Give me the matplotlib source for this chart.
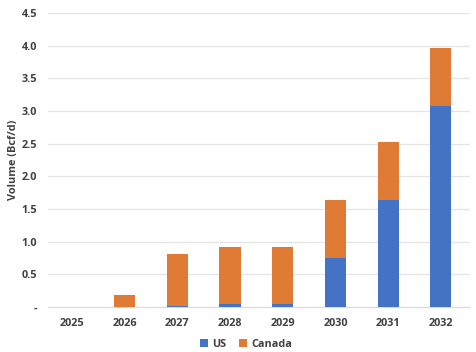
import numpy as np
import matplotlib.pyplot as plt

years = ['2025', '2026', '2027', '2028', '2029', '2030', '2031', '2032']
us = [0.0, 0.0, 0.01, 0.04, 0.04, 0.75, 1.63, 3.08]
canada = [0.0, 0.19, 0.80, 0.88, 0.88, 0.88, 0.89, 0.89]
yticks = [0, 0.5, 1.0, 1.5, 2.0, 2.5, 3.0, 3.5, 4.0, 4.5]
ylabels = ['-', '0.5', '1.0', '1.5', '2.0', '2.5', '3.0', '3.5', '4.0', '4.5']

plt.rcParams['font.family'] = ['Open Sans', 'DejaVu Sans']

fig = plt.figure(figsize=(4.77, 3.52), dpi=100)
ax = fig.add_axes([0.101, 0.128, 0.884, 0.835])

x = np.arange(len(years))
ax.bar(x, us, width=0.4, color='#4472C4', label='US', zorder=3)
ax.bar(x, canada, width=0.4, bottom=us, color='#E07B35', label='Canada', zorder=3)

ax.set_xlim(-0.45, 7.55)
ax.set_ylim(0, 4.5)
ax.set_yticks(yticks)
ax.set_yticklabels(ylabels, fontsize=7.8, fontweight='bold', color='#404040')
ax.set_xticks(x)
ax.set_xticklabels(years, fontsize=7.8, fontweight='bold', color='#404040')
ax.tick_params(length=0, pad=8)
ax.tick_params(axis='y', pad=8)
ax.grid(axis='y', color='#e4e4e4', linewidth=0.9, zorder=0)
for s in ['top', 'right', 'left']:
    ax.spines[s].set_visible(False)
ax.spines['bottom'].set_color('#d9d9d9')
ax.set_ylabel('Volume (Bcf/d)', fontsize=7.8, fontweight='bold', color='#404040', labelpad=2)

ax.legend(loc='upper center', bbox_to_anchor=(0.47, -0.075), ncol=2, frameon=False,
          prop={'size': 7.8, 'weight': 'bold'}, handlelength=0.7, handleheight=0.7,
          handletextpad=0.4, columnspacing=1.2, labelcolor='#404040')

fig.savefig('out.png', dpi=100)
